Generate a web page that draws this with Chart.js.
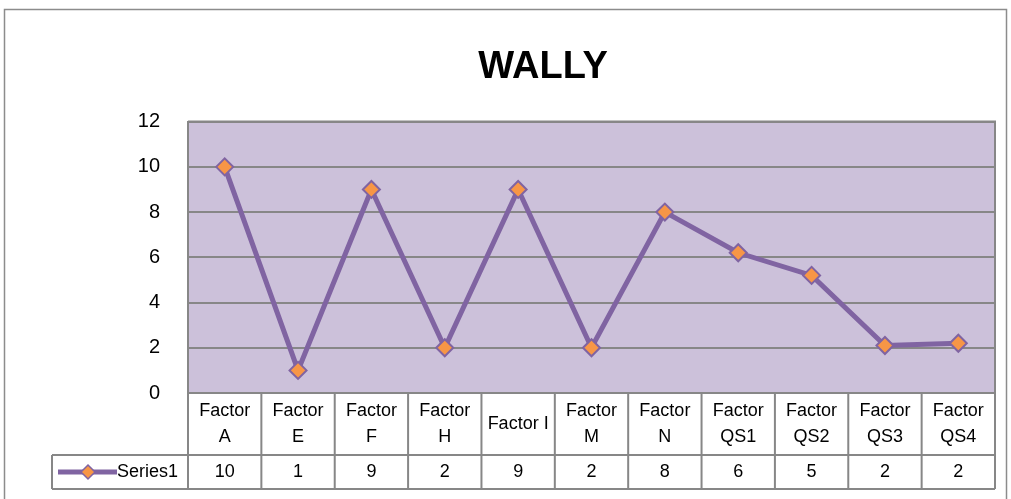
<!DOCTYPE html>
<html>
<head>
<meta charset="utf-8">
<script src="https://cdn.jsdelivr.net/npm/chart.js@4"></script>
<style>
body{margin:0;background:#fff;}
#wrap{width:1011px;height:499px;position:relative;}
</style>
</head>
<body>
<div id="wrap"><canvas id="myChart"></canvas></div>
<script>
// data
const categories = [["Factor","A"],["Factor","E"],["Factor","F"],["Factor","H"],["Factor I"],
    ["Factor","M"],["Factor","N"],["Factor","QS1"],["Factor","QS2"],["Factor","QS3"],["Factor","QS4"]];
const values = [10, 1, 9, 2, 9, 2, 8, 6.2, 5.2, 2.1, 2.2];
const seriesName = "Series1";
const chartTitle = "WALLY";
const yTicks = [0, 2, 4, 6, 8, 10, 12];

const purple = "#8064A2";
const orange = "#F79646";
const gridGray = "#878787";
const font = "Liberation Sans";

// plot background, outer frame and the data table underneath
const tablePlugin = {
    id: "dataTable",
    beforeDraw(chart){
        const ctx = chart.ctx, a = chart.chartArea;
        ctx.save();
        ctx.strokeStyle = "#8c8c8c";
        ctx.lineWidth = 1.5;
        ctx.strokeRect(4.5, 9.5, 1002, 600);
        ctx.fillStyle = "#CCC1DA";
        ctx.fillRect(a.left, a.top, a.right - a.left, a.bottom - a.top);
        ctx.restore();
    },
    afterDraw(chart){
        const ctx = chart.ctx, a = chart.chartArea;
        const x = chart.scales.x;
        const n = categories.length;
        const w = (a.right - a.left) / n;
        const top = a.bottom, mid = 455, bot = 489, legLeft = 52;
        ctx.save();
        ctx.strokeStyle = gridGray;
        ctx.lineWidth = 2;
        ctx.beginPath();
        // plot frame top/right
        ctx.moveTo(a.left, a.top); ctx.lineTo(a.right, a.top); ctx.lineTo(a.right, a.bottom);
        ctx.moveTo(a.left, top); ctx.lineTo(a.right, top);
        ctx.moveTo(legLeft, mid); ctx.lineTo(a.right, mid);
        ctx.moveTo(legLeft, bot); ctx.lineTo(a.right, bot);
        ctx.moveTo(legLeft, mid); ctx.lineTo(legLeft, bot);
        for (let i = 0; i <= n; i++) {
            const lx = a.left + i * w;
            ctx.moveTo(lx, top); ctx.lineTo(lx, bot);
        }
        ctx.stroke();

        ctx.fillStyle = "#000";
        ctx.font = "18px '" + font + "'";
        ctx.textAlign = "center";
        ctx.textBaseline = "middle";
        categories.forEach((lines, i) => {
            const cx = x.getPixelForValue(i);
            if (lines.length == 1) {
                ctx.fillText(lines[0], cx, (top + mid) / 2);
            } else {
                ctx.fillText(lines[0], cx, 411);
                ctx.fillText(lines[1], cx, 437);
            }
            ctx.fillText(values[i].toFixed(0), cx, (mid + bot) / 2);
        });

        // legend key in the row header
        const ky = (mid + bot) / 2;
        ctx.strokeStyle = purple;
        ctx.lineWidth = 5;
        ctx.beginPath();
        ctx.moveTo(58, ky); ctx.lineTo(117, ky);
        ctx.stroke();
        ctx.beginPath();
        ctx.moveTo(88, ky - 7); ctx.lineTo(95, ky); ctx.lineTo(88, ky + 7); ctx.lineTo(81, ky);
        ctx.closePath();
        ctx.fillStyle = orange;
        ctx.fill();
        ctx.lineWidth = 1.5;
        ctx.stroke();
        ctx.fillStyle = "#000";
        ctx.textAlign = "left";
        ctx.fillText(seriesName, 117, ky);
        ctx.restore();
    }
};

const ctx = document.getElementById("myChart");
new Chart(ctx, {
    type: "line",
    data: {
        labels: categories,
        datasets: [{
            label: seriesName,
            data: values,
            borderColor: purple,
            borderWidth: 5,
            pointStyle: "rectRot",
            pointRadius: 8.5,
            pointBackgroundColor: orange,
            pointBorderColor: purple,
            pointBorderWidth: 2,
            tension: 0,
            clip: false
        }]
    },
    options: {
        responsive: true,
        maintainAspectRatio: false,
        animation: false,
        layout: { padding: { left: 91, right: 16, top: 0, bottom: 106 } },
        plugins: {
            legend: { display: false },
            tooltip: { enabled: false },
            title: {
                display: true,
                text: chartTitle,
                color: "#000",
                font: { family: font, size: 38, weight: "bold" },
                padding: { top: 45, bottom: 31 }
            }
        },
        scales: {
            x: { display: false, offset: true },
            y: {
                min: 0,
                max: 12,
                afterFit(s){ s.width = 97; },
                afterBuildTicks(s){ s.ticks = yTicks.map(v => ({ value: v })); },
                ticks: {
                    color: "#000",
                    padding: 28,
                    font: { family: font, size: 20 }
                },
                grid: { color: gridGray, lineWidth: 2, drawTicks: false },
                border: { color: gridGray, width: 2 }
            }
        }
    },
    plugins: [tablePlugin]
});
</script>
</body>
</html>
